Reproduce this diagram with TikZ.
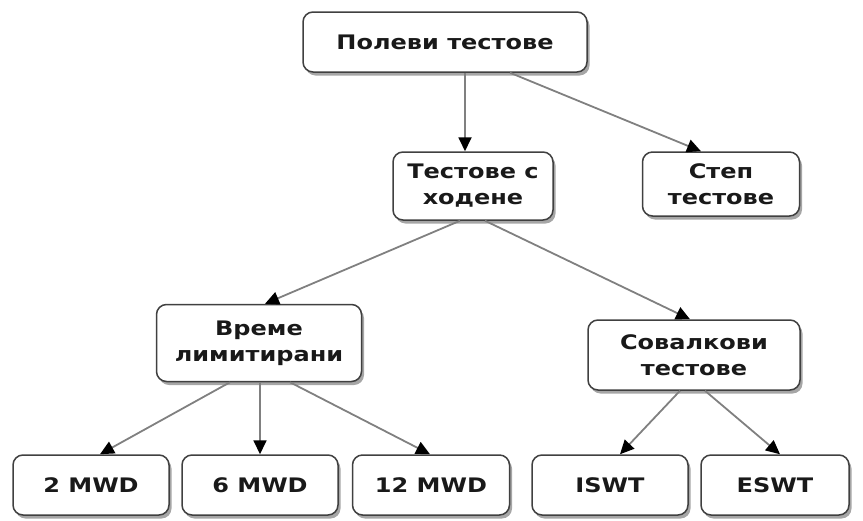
\documentclass[tikz,border=0pt]{standalone}
\usepackage{fontspec}
\setmainfont{DejaVu Sans}[FakeStretch=1.2]
\usetikzlibrary{arrows.meta,shadows}
\begin{document}
\begin{tikzpicture}[x=1pt,y=-1pt,
  box/.style={draw=black!75, line width=1.5pt, rounded corners=10pt, fill=white,
    align=center, inner sep=0pt, font=\fontsize{20}{26}\selectfont\bfseries, text=black!90,
    drop shadow={shadow xshift=2.5pt, shadow yshift=-3.5pt, fill=black!50, opacity=0.7}},
  conn/.style={draw=black!50, line width=1.8pt, -{Triangle[length=14pt,width=13pt,color=black,fill=black]}}]
\useasboundingbox (0,0) rectangle (863,520);
\node[box, minimum width=284pt, minimum height=60pt] (root) at (445,42) {Полеви тестове};
\node[box, minimum width=160pt, minimum height=68pt] (walk) at (473,186) {Тестове с\\ходене};
\node[box, minimum width=157pt, minimum height=64pt] (step) at (721,184) {Степ\\тестове};
\node[box, minimum width=205pt, minimum height=77pt] (time) at (259,343) {Време\\лимитирани};
\node[box, minimum width=212pt, minimum height=70pt] (shut) at (694,355) {Совалкови\\тестове};
\node[box, minimum width=156pt, minimum height=60pt] (m2) at (91,485) {2 MWD};
\node[box, minimum width=156pt, minimum height=60pt] (m6) at (260,485) {6 MWD};
\node[box, minimum width=157pt, minimum height=60pt] (m12) at (431,485) {12 MWD};
\node[box, minimum width=156pt, minimum height=60pt] (iswt) at (610,485) {ISWT};
\node[box, minimum width=148pt, minimum height=60pt] (eswt) at (775,485) {ESWT};
\draw[conn] ([xshift=-8pt]walk.north |- root.south) -- ([xshift=-8pt]walk.north);
\draw[conn] ([xshift=65pt]root.south) -- ([xshift=-20pt]step.north);
\draw[conn] ([xshift=-13pt]walk.south) -- ([xshift=6pt]time.north);
\draw[conn] ([xshift=12pt]walk.south) -- ([xshift=-4pt]shut.north);
\draw[conn] ([xshift=-29pt]time.south) -- ([xshift=9pt]m2.north);
\draw[conn] (m6.north |- time.south) -- (m6.north);
\draw[conn] ([xshift=31pt]time.south) -- ([xshift=-1pt]m12.north);
\draw[conn] ([xshift=-14pt]shut.south) -- ([xshift=10pt]iswt.north);
\draw[conn] ([xshift=11pt]shut.south) -- ([xshift=5pt]eswt.north);
\end{tikzpicture}
\end{document}
